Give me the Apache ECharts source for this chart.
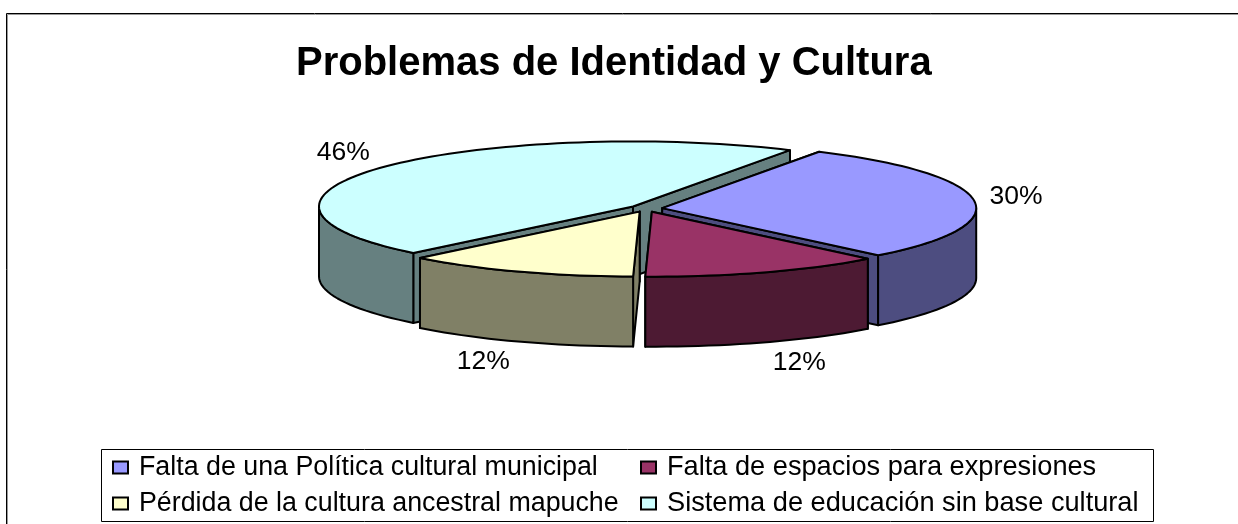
<!DOCTYPE html>
<html>
<head>
<meta charset="utf-8">
<title>Problemas de Identidad y Cultura</title>
<script src="https://cdn.jsdelivr.net/npm/echarts@6/dist/echarts.min.js"></script>
<style>
  html, body { margin: 0; padding: 0; background: #fff; }
  #chart { width: 1238px; height: 524px; }
</style>
</head>
<body>
<div id="chart"></div>
<script>
const categories = [
  'Falta de una Política cultural municipal',
  'Falta de espacios para expresiones',
  'Pérdida de la cultura ancestral mapuche',
  'Sistema de educación sin base cultural'
];
// labels show these rounded to whole percent
const percentValues = [29.6, 12.4, 12, 46];
const topColors = ['#9999FF', '#993366', '#FFFFCC', '#CCFFFF'];
const sideColors = ['#4D4D80', '#4D1A33', '#808066', '#668080'];
// painter's order: the big slice at the back goes first
const drawOrder = [3, 0, 1, 2];

const FONT = '"Liberation Sans", Arial, sans-serif';

// pie geometry
const cx = 646, cy = 208.5, rx = 314, ry = 65, depth = 70;
const explode = 0.052;
const startAngle = 30;

const rad = (d) => d * Math.PI / 180;

// angle is clockwise from 12 o'clock
function slices() {
  const total = percentValues.reduce((a, b) => a + b, 0);
  let acc = startAngle;
  return percentValues.map((v) => {
    const from = acc;
    acc += v / total * 360;
    return { from, to: acc, mid: (from + acc) / 2 };
  });
}

function rimPoint(o, t, dy) {
  return [o[0] + rx * Math.sin(rad(t)), o[1] - ry * Math.cos(rad(t)) + (dy || 0)];
}

function arcPoints(o, from, to, dy) {
  const pts = [];
  const steps = Math.max(2, Math.ceil(Math.abs(to - from) / 2));
  for (let i = 0; i <= steps; i++) {
    pts.push(rimPoint(o, from + (to - from) * i / steps, dy));
  }
  return pts;
}

function poly(points, fill) {
  return {
    type: 'polygon',
    shape: { points },
    style: { fill, stroke: '#000', lineWidth: 2, lineJoin: 'round' }
  };
}

const sliceGeo = slices();

function renderSlice(params, api) {
  const i = api.value(0);
  const geo = sliceGeo[i];
  const sinM = Math.sin(rad(geo.mid)), cosM = Math.cos(rad(geo.mid));
  const o = [cx + rx * explode * sinM, cy - ry * explode * cosM];
  const side = sideColors[i];
  const children = [];

  // radial walls, the one further back first
  const walls = [geo.from, geo.to].map((t) => {
    const p = rimPoint(o, t);
    return { y: p[1], pts: [o, p, [p[0], p[1] + depth], [o[0], o[1] + depth]] };
  }).sort((a, b) => a.y - b.y);
  walls.forEach((w) => children.push(poly(w.pts, side)));

  // outer rim: only the front half of the ellipse shows (90..270 deg)
  const a = Math.max(geo.from, 90), b = Math.min(geo.to, 270);
  if (b > a) {
    children.push(poly(arcPoints(o, a, b).concat(arcPoints(o, b, a, depth)), side));
  }

  // top face
  children.push(poly([o].concat(arcPoints(o, geo.from, geo.to)), topColors[i]));

  // percent label outside the rim
  const edge = rimPoint(o, geo.mid, cosM < 0 ? depth : 0);
  children.push({
    type: 'text',
    z2: 10,
    style: {
      x: edge[0] + (30 + 12 * Math.abs(sinM)) * Math.sign(sinM),
      y: edge[1] - 23 * cosM - 1,
      text: Math.round(api.value(1)) + '%',
      fill: '#000',
      font: '26.5px ' + FONT,
      align: 'center',
      verticalAlign: 'middle'
    }
  });

  return { type: 'group', children };
}

const chart = echarts.init(document.getElementById('chart'), null, { renderer: 'canvas' });

function legendAt(left, names, fontSize) {
  return {
    left,
    top: 454,
    data: names,
    orient: 'vertical',
    icon: 'rect',
    itemWidth: 15,
    itemHeight: 12,
    itemGap: 9,
    padding: 0,
    selectedMode: false,
    itemStyle: { borderColor: '#000', borderWidth: 2 },
    textStyle: { color: '#000', fontFamily: FONT, fontSize, lineHeight: 26, padding: [0, 0, 0, 6] }
  };
}

chart.setOption({
  animation: false,
  backgroundColor: '#fff',
  title: {
    text: 'Problemas de Identidad y Cultura',
    left: 296,
    top: 44,
    padding: 0,
    textStyle: { color: '#000', fontFamily: FONT, fontWeight: 'bold', fontSize: 40 }
  },
  legend: [
    legendAt(112, [categories[0], categories[2]], 26.8),
    legendAt(640, [categories[1], categories[3]], 27.2)
  ],
  graphic: [
    // chart frame runs off the right and bottom of the picture
    {
      type: 'rect', z: -1, silent: true,
      shape: { x: 7.5, y: 14.5, width: 1300, height: 600 },
      style: { fill: '#fff', stroke: '#999', lineWidth: 1 }
    },
    {
      type: 'rect', z: -1, silent: true,
      shape: { x: 6.5, y: 13.5, width: 1300, height: 600 },
      style: { fill: 'none', stroke: '#000', lineWidth: 1 }
    },
    {
      type: 'rect', z: -1, silent: true,
      shape: { x: 101.5, y: 449.5, width: 1052, height: 72 },
      style: { fill: '#fff', stroke: '#000', lineWidth: 1 }
    }
  ],
  series: drawOrder.map((i) => ({
    type: 'custom',
    name: categories[i],
    coordinateSystem: 'none',
    silent: true,
    itemStyle: { color: topColors[i] },
    renderItem: renderSlice,
    data: [[i, percentValues[i]]]
  }))
});
</script>
</body>
</html>
